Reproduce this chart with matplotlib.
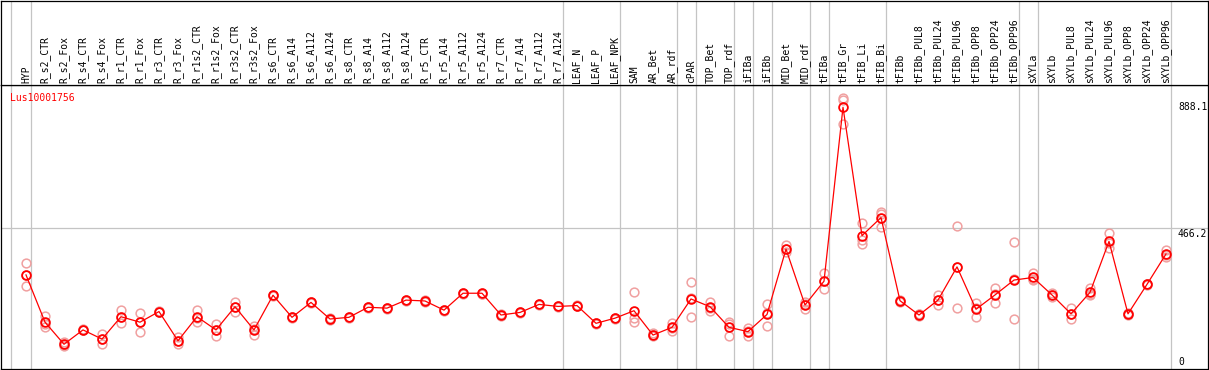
import matplotlib.pyplot as plt
import numpy as np

# sample columns, in the order they are drawn
labels = [
    "HYP", "R_s2_CTR", "R_s2_Fox", "R_s4_CTR", "R_s4_Fox", "R_r1_CTR", "R_r1_Fox",
    "R_r3_CTR", "R_r3_Fox", "R_r1s2_CTR", "R_r1s2_Fox", "R_r3s2_CTR", "R_r3s2_Fox",
    "R_s6_CTR", "R_s6_A14", "R_s6_A112", "R_s6_A124", "R_s8_CTR", "R_s8_A14",
    "R_s8_A112", "R_s8_A124", "R_r5_CTR", "R_r5_A14", "R_r5_A112", "R_r5_A124",
    "R_r7_CTR", "R_r7_A14", "R_r7_A112", "R_r7_A124", "LEAF_N", "LEAF_P", "LEAF_NPK",
    "SAM", "AR_Bet", "AR_rdf", "cPAR", "TOP_Bet", "TOP_rdf", "iFIBa", "iFIBb",
    "MID_Bet", "MID_rdf", "tFIBa", "tFIB_Gr", "tFIB_Li", "tFIB_Bi", "tFIBb",
    "tFIBb_PUL8", "tFIBb_PUL24", "tFIBb_PUL96", "tFIBb_OPP8", "tFIBb_OPP24",
    "tFIBb_OPP96", "sXYLa", "sXYLb", "sXYLb_PUL8", "sXYLb_PUL24", "sXYLb_PUL96",
    "sXYLb_OPP8", "sXYLb_OPP24", "sXYLb_OPP96",
]

mean_values = [
    303, 138, 61, 111, 79, 157, 138, 175, 73, 157, 111, 192, 111,
    232, 155, 207, 149, 155, 190, 187, 215, 212, 180, 239, 239,
    163, 172, 200, 193, 196, 134, 152,
    178, 93, 120, 219, 192, 120, 105, 165, 393, 198, 281, 888.1, 440, 503,
    213, 163, 215, 331, 183, 233, 285, 294, 233, 167, 242, 420, 167, 270, 376,
]

rep_1 = [
    343, 160, 70, 113, 96, 180, 169, 177, 87, 180, 130, 209, 125,
    234, 157, 209, 151, 157, 192, 189, 217, 214, 182, 241, 241,
    165, 174, 202, 195, 198, 136, 154,
    242, 100, 134, 277, 209, 137, 119, 201, 407, 209, 308, 919, 485, 524,
    216, 166, 233, 474, 206, 256, 417, 308, 240, 186, 256, 448, 170, 272, 390,
]
rep_2 = [
    302, 133, 57, 110, 80, 157, 139, 174, 73, 152, 112, 192, 114,
    232, 155, 207, 149, 155, 190, 187, 215, 212, 180, 239, 238,
    163, 172, 200, 193, 196, 134, 152,
    152, 92, 118, 222, 189, 131, 106, 169, 392, 200, 280, 915, 425, 514,
    213, 165, 215, 332, 186, 236, 289, 290, 232, 166, 238, 416, 166, 270, 372,
]
rep_3 = [
    264, 120, 55, 109, 62, 134, 105, 172, 61, 140, 90, 175, 93,
    229, 153, 205, 147, 153, 188, 185, 213, 210, 178, 237, 238,
    161, 170, 198, 191, 194, 132, 150,
    140, 88, 108, 157, 178, 91, 90, 126, 382, 183, 254, 830, 410, 470,
    210, 158, 198, 186, 157, 206, 149, 285, 226, 148, 233, 396, 164, 268, 366,
]

# last column of each tissue group (a gray divider follows it)
group_ends = [0, 28, 31, 34, 35, 37, 38, 39, 41, 42, 45, 52, 53, 60]
gene_name = "Lus10001756"
y_ticks = [0, 466.2, 888.1]


class Colors:
    MAIN = "#ff0000"
    REPLICATE = "#f0a0a0"
    GRID = "#c4c4c4"
    FRAME = "black"


W, H = 1209, 370
FONT = "DejaVu Sans Mono"

fig = plt.figure(figsize=(W / 100, H / 100), dpi=100)
left, right = 1 / W, 1208 / W
plot_ax = fig.add_axes([left, 1 - 368.5 / H, right - left, (368.5 - 85) / H])
head_ax = fig.add_axes([left, 1 - 85 / H, right - left, (85 - 0.5) / H], sharex=plot_ax)

# column i sits at pixel 26 + 19 * i
plot_ax.set_xlim((1 - 26) / 19, (1208 - 26) / 19)
plot_ax.set_ylim(-23.7, 965.8)
head_ax.set_ylim(0, 1)

for ax in (plot_ax, head_ax):
    ax.set_xticks([])
    ax.set_yticks([])
    for spine in ax.spines.values():
        spine.set_color(Colors.FRAME)
        spine.set_linewidth(0.9)
    # group dividers, through header and plot
    ax.axvline(-0.8, color=Colors.GRID, lw=0.9, zorder=0)
    for k in group_ends:
        ax.axvline(k + 0.25, color=Colors.GRID, lw=0.9, zorder=0)

x = np.arange(len(labels))

# rotated sample names
for i, name in enumerate(labels):
    head_ax.text(i, 0.02, name, rotation=90, ha="center", va="bottom",
                 fontsize=7, family=FONT)

# replicate points, then the mean line on top
for reps in (rep_1, rep_2, rep_3):
    plot_ax.plot(x, reps, linestyle="none", marker="o", ms=6.3, mfc="none",
                 mec=Colors.REPLICATE, mew=1.1, zorder=2)
plot_ax.plot(x, mean_values, color=Colors.MAIN, lw=0.9, marker="o", ms=6.3,
             mfc="none", mec=Colors.MAIN, mew=1.3, zorder=3)

plot_ax.axhline(466.2, color=Colors.GRID, lw=0.9, zorder=0)

# value labels in the right strip
label_x = (1178 - 26) / 19
plot_ax.text(label_x, 888.1, "888.1", ha="left", va="center", fontsize=7, family=FONT)
plot_ax.text(label_x, 466.2 - 3, "466.2", ha="left", va="top", fontsize=7, family=FONT)
plot_ax.text(label_x, 0, "0", ha="left", va="center", fontsize=7, family=FONT)

plot_ax.text((10 - 26) / 19, 921.5, gene_name, ha="left", va="center",
             fontsize=7, family=FONT, color=Colors.MAIN)

fig.savefig("out.png", dpi=100)
